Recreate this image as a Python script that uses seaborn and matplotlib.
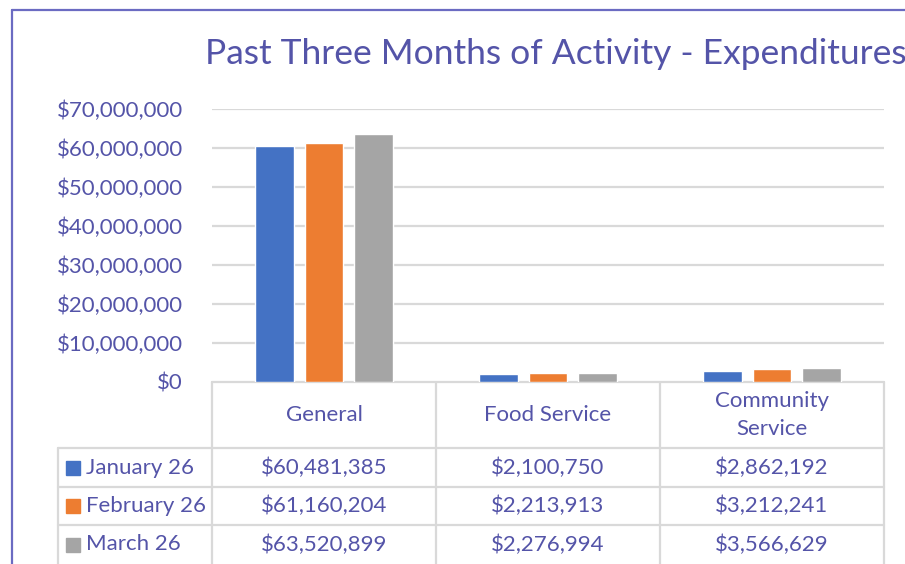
import matplotlib
matplotlib.use("Agg")
import matplotlib.pyplot as plt
import seaborn as sns
import pandas as pd
import numpy as np
from matplotlib.ticker import FuncFormatter, MultipleLocator
from matplotlib.patches import Rectangle

categories = ["General", "Food Service", "Community Service"]
header_labels = ["General", "Food Service", "Community\nService"]
months = ["January 26", "February 26", "March 26"]
jan = [60481385, 2100750, 2862192]
feb = [61160204, 2213913, 3212241]
mar = [63520899, 2276994, 3566629]
colors = ["#4472C4", "#ED7D31", "#A5A5A5"]
title = "Past Three Months of Activity - Expenditures"

TXT = "#5454A8"
GRID = "#D9D9D9"
FONT = "Lato"

sns.set_theme(style="white")
plt.rcParams["font.family"] = [FONT, "DejaVu Sans"]

df = pd.DataFrame({
    "Category": categories * 3,
    "Month": [m for m in months for _ in categories],
    "Value": jan + feb + mar,
})

W, H = 905, 564
fig = plt.figure(figsize=(W / 100, H / 100), dpi=100)

def fx(px):
    return px / W

def fy(py):
    return 1 - py / H

# main axes
ax = fig.add_axes([fx(212), fy(382), fx(884) - fx(212), fy(109) - fy(382)])
sns.barplot(data=df, x="Category", y="Value", hue="Month", palette=colors,
            ax=ax, width=0.665, gap=0.22, legend=False, saturation=1)
ax.set_ylim(0, 70000000)
ax.set_xlim(-0.5, 2.5)
ax.yaxis.set_major_locator(MultipleLocator(10000000))
ax.yaxis.set_major_formatter(FuncFormatter(lambda v, p: f"${v:,.0f}"))
ax.grid(axis="y", color=GRID, lw=1.6)
ax.set_axisbelow(True)
for s in ax.spines.values():
    s.set_visible(False)
ax.set_xlabel("")
ax.set_ylabel("")
ax.set_xticks([])
ax.tick_params(axis="y", length=0, pad=21, labelsize=16, labelcolor=TXT)

# table axes in pixel coordinates
tax = fig.add_axes([0, 0, 1, 1], zorder=-1)
tax.set_xlim(0, W)
tax.set_ylim(H, 0)
tax.axis("off")

col_x = [212, 436, 660, 884]
row_y = [382, 448, 487, 525, 564]
lw = 1.6
tax.plot([212, 884], [382, 382], color=GRID, lw=lw)
for yv in row_y[1:4]:
    tax.plot([58, 884], [yv, yv], color=GRID, lw=lw)
for xv in col_x:
    tax.plot([xv, xv], [382, 564], color=GRID, lw=lw)
tax.plot([58, 58], [448, 564], color=GRID, lw=lw)

fs = 16
for i, lab in enumerate(header_labels):
    cx = (col_x[i] + col_x[i + 1]) / 2
    tax.text(cx, (row_y[0] + row_y[1]) / 2, lab, ha="center", va="center",
             color=TXT, fontsize=fs, linespacing=1.45)

series = [jan, feb, mar]
for r, (m, vals, c) in enumerate(zip(months, series, colors)):
    cy = (row_y[r + 1] + row_y[r + 2]) / 2
    tax.add_patch(Rectangle((66, cy - 7), 14, 14, color=c))
    tax.text(86, cy, m, ha="left", va="center", color=TXT, fontsize=fs)
    for i, v in enumerate(vals):
        cx = (col_x[i] + col_x[i + 1]) / 2
        tax.text(cx, cy, f"${v:,.0f}", ha="center", va="center", color=TXT, fontsize=fs)

# border
tax.plot([12, 12], [10, 564], color="#6B6BC2", lw=1.6)
tax.plot([12, 905], [10, 10], color="#6B6BC2", lw=1.6)

tax.text(205, 54, title, ha="left", va="center", color=TXT, fontsize=25.5)

fig.savefig("out.png", dpi=100)
